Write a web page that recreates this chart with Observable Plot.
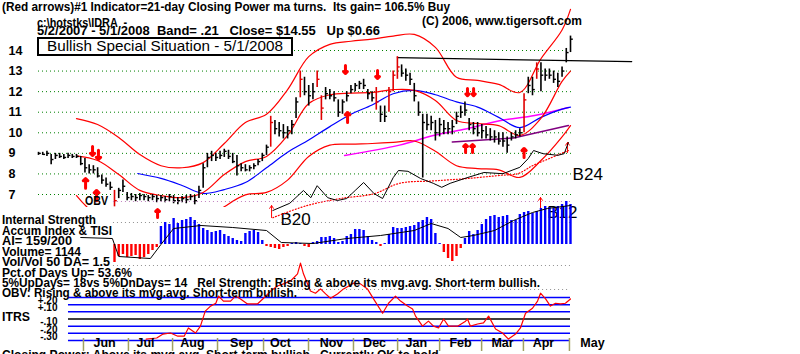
<!DOCTYPE html>
<html><head><meta charset="utf-8">
<script src="https://cdn.jsdelivr.net/npm/d3@7"></script>
<script src="https://cdn.jsdelivr.net/npm/@observablehq/plot@0.6"></script>
<style>
html,body{margin:0;padding:0;background:#fff;}
#wrap{position:relative;width:800px;height:354px;overflow:hidden;font-family:"Liberation Sans",Arial,sans-serif;background:#fff;}
#wrap svg{position:absolute;left:0;top:0;}
.t{position:absolute;white-space:pre;transform-origin:0 0;color:#000;line-height:1;}
.box{position:absolute;box-sizing:border-box;border:2px solid #000;background:#fff;}
</style></head><body><div id="wrap"></div><script>
// ---------- data ----------
const priceTicks = [7, 8, 9, 10, 11, 12, 13, 14];
const barHigh = [9.05,9.05,9.1,8.95,9.0,9.0,8.95,9.0,8.95,8.95,
 8.85,8.75,8.45,8.4,8.3,7.95,7.8,7.6,7.2,7.3,
 7.7,7.1,7.05,7.0,7.05,7.0,6.95,7.0,6.95,6.95,
 6.9,7.0,6.95,6.85,6.9,6.95,7.0,6.95,7.4,8.5,
 9.0,9.1,9.0,9.1,9.2,9.15,9.0,8.9,8.5,8.45,
 8.4,8.5,8.7,9.0,9.4,10.8,10.6,10.5,10.4,10.3,
 10.6,11.7,13.0,12.7,12.3,12.4,13.0,11.8,12.2,12.1,
 12.0,11.6,11.6,12.0,12.3,12.4,12.5,12.6,12.1,12.0,
 12.2,11.3,11.3,12.2,13.0,13.7,13.3,13.1,12.9,12.4,
 11.5,10.9,10.9,10.8,10.6,10.7,10.6,10.5,10.6,11.0,
 11.3,11.5,10.7,10.5,10.5,10.4,10.3,10.2,10.1,10.0,
 10.0,9.8,10.0,10.1,10.2,11.9,12.7,12.7,13.4,13.4,
 13.1,13.1,13.0,12.9,13.2,14.1,14.7];
const barLow = [8.9,8.9,8.85,8.45,8.7,8.75,8.7,8.75,8.75,8.75,
 8.4,8.05,8.0,8.0,7.8,7.5,7.35,7.2,6.4,6.8,
 7.1,6.7,6.7,6.65,6.7,6.7,6.65,6.7,6.6,6.65,
 6.6,6.65,6.55,6.5,6.6,6.55,6.7,6.5,6.8,7.3,
 8.3,8.6,8.6,8.7,8.8,8.7,8.5,7.9,8.1,8.1,
 8.1,8.2,8.4,8.6,8.9,9.3,9.9,9.8,9.7,9.7,
 9.9,10.7,11.7,11.8,11.3,11.6,12.2,10.6,11.6,11.6,
 11.5,10.75,10.9,11.5,11.9,12.0,12.1,12.1,11.6,11.5,
 11.1,10.5,10.5,11.0,12.0,12.6,12.7,12.5,12.3,11.5,
 10.8,7.8,10.1,10.1,9.6,9.8,9.9,9.9,9.9,10.4,
 10.7,10.8,10.1,9.9,9.8,9.7,9.7,9.6,9.5,9.4,
 9.3,9.0,9.6,9.7,9.8,10.0,11.9,11.8,12.6,12.0,
 12.5,12.6,12.4,12.2,12.7,13.4,13.9];
const barClose = [9.0,8.95,9.0,8.7,8.9,8.85,8.8,8.9,8.85,8.85,
 8.5,8.3,8.2,8.2,7.9,7.7,7.5,7.35,6.7,7.2,
 7.4,6.85,6.9,6.85,6.95,6.9,6.85,6.9,6.8,6.85,
 6.75,6.9,6.7,6.7,6.8,6.75,6.9,6.7,7.2,8.3,
 8.8,8.9,8.8,8.9,9.1,8.85,8.6,8.4,8.3,8.2,
 8.3,8.4,8.6,8.9,9.3,10.5,10.2,10.1,10.0,10.1,
 10.4,11.5,12.6,12.0,11.8,12.0,12.6,11.2,11.9,11.8,
 11.7,11.0,11.5,11.8,12.1,12.3,12.4,12.3,11.9,11.7,
 11.5,10.9,10.8,12.0,12.8,13.2,12.9,12.8,12.6,11.8,
 11.0,10.5,10.4,10.5,10.0,10.4,10.2,10.2,10.3,10.8,
 11.0,11.1,10.4,10.2,10.0,10.1,9.9,9.8,9.8,9.6,
 9.6,9.4,9.8,9.9,10.0,11.6,12.3,12.1,13.1,12.8,
 12.8,12.8,12.6,12.5,13.0,13.9,14.55];
const redBarK = [18, 55, 62, 66, 67, 80, 83, 84, 85, 115, 118];

const bandIdx = [18,28,38,48,58,68,78,88,98,108,118,128,138,148,158,168,178,188,198,208,218,228,238,248,252];
const bandUpper = [10.69,10.4,9.77,8.94,8.4,8.3,8.55,9.48,10.5,10.9,12.1,13.7,14.3,14.45,14.55,14.7,14.78,14.15,12.7,12.55,12.35,11.96,13.6,15.0,16.0];
const bandMid = [8.88,8.65,7.97,7.2,6.95,6.85,7.1,7.97,8.6,8.85,9.87,11.42,11.85,11.93,11.96,12.1,12.06,11.57,10.6,10.45,10.35,9.87,10.7,12.5,13.0];
const bandLower = [6.95,6.0,5.9,5.7,5.5,5.4,5.6,6.4,6.98,7.1,7.7,8.85,9.4,9.45,9.48,9.53,9.6,9.1,8.4,8.26,8.2,7.83,8.65,9.8,10.35];
const ma50Idx = [47,58,68,78,88,98,108,118,128,138,148,158,168,178,188,198,208,218,228,238,248,252];
const ma50Val = [8.02,7.78,7.44,7.05,7.24,7.58,8.3,9.05,9.65,10.3,10.9,11.35,11.9,12.06,11.85,11.5,11.25,10.75,10.25,10.75,11.15,11.25];
const magIdx = [145,171,187,203,219,235,251];
const magVal = [8.9,9.4,9.87,10.2,10.6,10.84,11.23];
const purIdx = [196,225,251];
const purVal = [9.55,9.75,10.35];
const resIdx = [170,281];
const resVal = [13.65,13.46];

const downIdx = [25.6,28.4,145.4,160.6,203.2,206.1];
const downTop = [9.33,9.15,13.27,13.03,12.15,12.15];
const downTip = [8.9,8.7,12.88,12.64,11.8,11.8];
const upIdx = [22.3,27.5,56.4,146.4,202.3,205.6,230];
const upBase = [7.3,6.7,5.88,10.5,9.04,9.04,8.8];
const upTip = [7.78,7.2,6.27,10.99,9.43,9.43,9.24];
const thinIdx = [110.4,237.8,250.6];
const thinBase = [5.88,6.32,9.04];
const thinTip = [6.46,6.85,9.53];
const sigText = ["B20","B12","B24"];
const sigIdx = [114.6,241,253];
const sigPrice = [5.78,6.12,7.97];

const obvIdx = [111,119,125.5,129,132,137,141.6,146,150,154,159,163,168,170.5,175,181,187,191,195,203,211,220,228,232,234.5,239,246,249,251];
const obvVal = [15,24,40,31,46,31,27.5,30,40,50,36,30,56,65,64,55,49,44,49,56,62.5,61,69,80,90,86,84,86,100];
const obvMaIdx = [111,127,143,159,171,187,203,219,227,234,242,251];
const obvMaVal = [6,21,30,36,49,52,55,59,61,71,80,90];

const aiStartK = 18;
const aiVal = [-18,-12,-10,-13,-12,-11,-15,-13,-10,-6,
 -3,18,22,20,26,21,24,25,27,24,
 20,16,14,12,13,14,10,8,6,4,
 3,11,13,14,12,4,-2,-3,-4,-5,
 -3,-2,1,2,1,-2,-3,2,3,7,
 7,8,6,2,3,8,10,15,15,14,
 8,4,2,-2,1,10,17,16,16,17,
 18,19,22,24,27,25,11,1,-8,-14,
 -17,-12,-4,6,13,10,14,20,25,28,
 29,27,28,29,24,24,30,32,33,31,
 33,36,38,37,36,38,40,43,40];
const tisiIdx = [20,35,38,53,58,64,77,92,108,115,130,146,162,178,186,194,200,206,216,225,234,241,252];
const tisiVal = [7,6,-12,-14,0,16,19,17,14,2,1,6,9,14,21,16,7,9,14,24,32,36,39];
const sepLevel = [43,22,-21,-45];
const sepStart = [35.5,35.5,35.5,123.2];
const sepColor = ["#c080c0","#909090","#909090","#909090"];

const itrsLevels = [0.3,0.2,0.1,0,-0.1,-0.2,-0.3];
const itrsLabelVal = [0.2,0.1,-0.1,-0.2,-0.3];
const itrsLabels = ["+.20","+.10","-.10","-.20","-.30"];
const itrsIdx = [51,56,59,62.5,66,69,71,74.4,76.7,79,81.5,84,85.3,87.6,91,93.3,95.7,99,103.7,106.6,110,113.2,116,119.4,122.7,124.1,125.5,128.8,131.2,133.6,136,138.3,141.6,144.5,149.2,152.5,155.8,158.7,163,165.8,169.1,171.5,174.8,177.2,178.6,181.9,184.7,187.1,189.5,191.9,194.2,198.5,202.3,203.2,204.6,208,210.8,213.2,216.5,219.8,222.6,226,228.3,230.7,234,236.4,237.8,240.2,242.5,244.9,247.3,249.6,252];
const itrsVal = [-0.28,-0.265,-0.21,-0.195,-0.24,-0.24,-0.125,-0.195,-0.10,0.11,0.18,0.22,0.32,0.25,0.25,0.32,0.28,0.21,0.21,0.29,0.39,0.46,0.49,0.53,0.63,0.78,0.63,0.39,0.36,0.42,0.35,0.29,0.35,0.42,0.50,0.49,0.42,0.28,0.08,0.22,0.32,0.25,0.18,0.14,0.04,-0.10,-0.03,-0.10,-0.125,0.0,-0.10,-0.10,-0.03,0,-0.10,-0.07,-0.055,0.04,-0.14,-0.195,-0.28,-0.21,-0.125,0.08,0.15,0.25,0.36,0.28,0.18,0.22,0.21,0.22,0.28];

const monthNames = ["Jun","Jul","Aug","Sep","Oct","Nov","Dec","Jan","Feb","Mar","Apr","May"];
const monthLabelIdx = [31.3,50.7,72.9,96.2,114.6,138.8,159.2,179,199.9,219.8,239.2,262.4];
const monthTickIdx = [21.3,42.6,63.5,84.8,106.6,127.9,149.2,170.1,190,209.9,229.7,251.5];

const headerText = [
  "(Red arrows)#1 Indicator=21-day Closing Power ma turns.  Its gain= 106.5% Buy",
  "c:\\hotstks\\IDRA  -",
  "5/2/2007 - 5/1/2008  Band= .21   Close= $14.55   Up $0.66",
  "(C) 2006, www.tigersoft.com",
  "Bullish Special Situation - 5/1/2008"
];
const infoText = [
  "Internal Strength",
  "Accum Index & TISI",
  "AI= 159/200",
  "Volume= 1144",
  "Vol/Vol 50 DA= 1.5",
  "Pct.of Days Up= 53.6%",
  "5%UpDays= 18vs 5%DnDays= 14   Rel Strength: Rising & above its mvg.avg. Short-term bullish.",
  "OBV: Rising & above its mvg.avg. Short-term bullish.",
  "ITRS",
  "OBV",
  "Closing Power: Above its mvg.avg. Short-term bullish.  Currently OK to hold."
];

// ---------- build ----------
const wrap = document.getElementById("wrap");
const FONT = "Liberation Sans, Arial, sans-serif";
const base = {
  width: 800, height: 354, margin: 0,
  x: {domain: [0, 252], range: [38, 570], axis: null},
  color: {type: "identity"},
  style: {background: "transparent", fontFamily: FONT, overflow: "visible"}
};

const bars = barClose.map((c, k) => ({day: k * 2, hi: barHigh[k], lo: barLow[k], close: c, col: redBarK.includes(k) ? "#e00000" : "#000"}));
const band = bandIdx.map((d, i) => ({day: d, up: bandUpper[i], mid: bandMid[i], lo: bandLower[i]}));
const ma50 = ma50Idx.map((d, i) => ({day: d, v: ma50Val[i]}));
const mag = magIdx.map((d, i) => ({day: d, v: magVal[i]}));
const pur = purIdx.map((d, i) => ({day: d, v: purVal[i]}));
const res = resIdx.map((d, i) => ({day: d, v: resVal[i]}));
const downs = downIdx.map((d, i) => ({day: d, a: downTop[i], b: downTip[i]}));
const ups = upIdx.map((d, i) => ({day: d, a: upBase[i], b: upTip[i]}));
const thins = thinIdx.map((d, i) => ({day: d, a: thinBase[i], b: thinTip[i]}));
const sigs = sigText.map((t, i) => ({t, day: sigIdx[i], p: sigPrice[i]}));

const pricePlot = Plot.plot({...base, marginBottom: 147,
  y: {domain: [7, 14], range: [194, 50], axis: null},
  marks: [
    Plot.ruleY(priceTicks, {y: d => d, x1: 0, x2: 253, stroke: "#008000", strokeDasharray: "1,3", strokeWidth: 1}),
    Plot.text(priceTicks, {y: d => d, text: d => String(d), frameAnchor: "left", dx: 8, textAnchor: "start", fontWeight: "bold", fontSize: 12.5}),
    Plot.line(mag, {x: "day", y: "v", stroke: "#ff00ff", strokeWidth: 1.5, curve: "catmull-rom"}),
    Plot.line(pur, {x: "day", y: "v", stroke: "#800080", strokeWidth: 1.5}),
    Plot.line(ma50, {x: "day", y: "v", stroke: "#0000ff", strokeWidth: 1.2, curve: "catmull-rom"}),
    Plot.line(band, {x: "day", y: "up", stroke: "#ff0000", strokeWidth: 1.2, curve: "catmull-rom"}),
    Plot.line(band, {x: "day", y: "mid", stroke: "#ff0000", strokeWidth: 1.2, curve: "catmull-rom"}),
    Plot.line(band, {x: "day", y: "lo", stroke: "#ff0000", strokeWidth: 1.2, curve: "catmull-rom", clip: true}),
    Plot.line(res, {x: "day", y: "v", stroke: "#000", strokeWidth: 1.2}),
    Plot.ruleX(bars, {x: "day", y1: "lo", y2: "hi", stroke: "col", strokeWidth: 1.6}),
    Plot.link(bars, {x1: "day", x2: d => d.day + 1.1, y1: "close", y2: "close", stroke: "col", strokeWidth: 1.4}),
    Plot.arrow(downs, {x1: "day", x2: "day", y1: "a", y2: "b", stroke: "#ff0000", strokeWidth: 3, headLength: 6, headAngle: 90}),
    Plot.arrow(ups, {x1: "day", x2: "day", y1: "a", y2: "b", stroke: "#ff0000", strokeWidth: 3, headLength: 6, headAngle: 90}),
    Plot.arrow(thins, {x1: "day", x2: "day", y1: "a", y2: "b", stroke: "#ff0000", strokeWidth: 1, headLength: 5, headAngle: 70}),
    Plot.text(sigs, {x: "day", y: "p", text: "t", textAnchor: "start", fontSize: 17})
  ]
});

const obv = obvIdx.map((d, i) => ({day: d, v: obvVal[i]}));
const obvMa = obvMaIdx.map((d, i) => ({day: d, v: obvMaVal[i]}));
const obvPlot = Plot.plot({...base,
  y: {domain: [0, 100], range: [222, 142], axis: null},
  marks: [
    Plot.line(obvMa, {x: "day", y: "v", stroke: "#ff0000", strokeWidth: 1.2, strokeDasharray: "1,2", curve: "catmull-rom"}),
    Plot.line(obv, {x: "day", y: "v", stroke: "#000", strokeWidth: 1})
  ]
});

const ai = aiVal.map((v, i) => ({day: (aiStartK + i) * 2, v, col: v >= 0 ? "#0000ff" : "#ff0000"}));
const tisi = tisiIdx.map((d, i) => ({day: d, v: tisiVal[i]}));
const seps = sepLevel.map((v, i) => ({v, x1: sepStart[i], col: sepColor[i]}));
const aiPlot = Plot.plot({...base,
  y: {domain: [0, 40], range: [244, 204], axis: null},
  marks: [
    Plot.ruleY(seps, {y: "v", x1: "x1", x2: 252, stroke: "col", strokeDasharray: "1,3", strokeWidth: 1}),
    Plot.ruleX(ai, {x: "day", y1: 0, y2: "v", stroke: "col", strokeWidth: 2.4}),
    Plot.line(tisi, {x: "day", y: "v", stroke: "#000", strokeWidth: 1})
  ]
});

const itrs = itrsIdx.map((d, i) => ({day: d, v: itrsVal[i]}));
const itrsPlot = Plot.plot({...base,
  y: {domain: [-0.3, 0.3], range: [340, 297], axis: null},
  marks: [
    Plot.ruleY(itrsLevels, {y: d => d, x1: 14.2, x2: 252, stroke: d => d === 0 ? "#000" : "#0000ff", strokeWidth: 1.5}),
    Plot.text(itrsLabelVal, {y: d => d, text: (d, i) => itrsLabels[i], frameAnchor: "left", dx: 57, dy: -4, textAnchor: "end", fontWeight: "bold", fontSize: 10}),
    Plot.line(itrs, {x: "day", y: "v", stroke: "#ff0000", strokeWidth: 1.2}),
    Plot.ruleX(monthTickIdx, {x: d => d, insetTop: 338, insetBottom: 3, stroke: "#a0a060", strokeWidth: 1.5}),
    Plot.text(monthNames, {x: (d, i) => monthLabelIdx[i], text: d => d, frameAnchor: "bottom", dy: -8, fontWeight: "bold", fontSize: 12.5})
  ]
});

[pricePlot, obvPlot, aiPlot, itrsPlot].forEach(p => wrap.appendChild(p));

function label(str, left, top, width, size, weight) {
  const el = document.createElement("div");
  el.className = "t";
  el.textContent = str;
  el.style.left = left + "px";
  el.style.top = top + "px";
  el.style.fontSize = size + "px";
  el.style.fontWeight = weight;
  wrap.appendChild(el);
  const w = el.getBoundingClientRect().width;
  if (width && w > 0) el.style.transform = `scaleX(${width / w})`;
  return el;
}
const box = document.createElement("div");
box.className = "box";
box.style.left = "37px"; box.style.top = "37px"; box.style.width = "256px"; box.style.height = "19px";
wrap.appendChild(box);

label(headerText[0], 2, 1, 448, 12, "bold");
label(headerText[1], 37, 16.5, 90, 12, "bold");
label(headerText[2], 37, 25, 343, 12, "bold");
label(headerText[3], 422, 15, 160, 12, "bold");
label(headerText[4], 47, 38.8, 236, 14.5, "normal");

const infoTop = [214, 225, 235, 245.7, 256, 266.7, 277.4, 287.4];
const infoW = [94, 110, 70, 79, 108, 130, 538, 295];
infoTop.forEach((t, i) => label(infoText[i], 2, t, infoW[i], 12, "bold"));
label(infoText[8], 2, 311, 28, 12.5, "bold");
label(infoText[9], 85, 195.4, 23, 12.5, "bold");
label(infoText[10], 2, 349, 440, 12, "bold");
</script></body></html>
